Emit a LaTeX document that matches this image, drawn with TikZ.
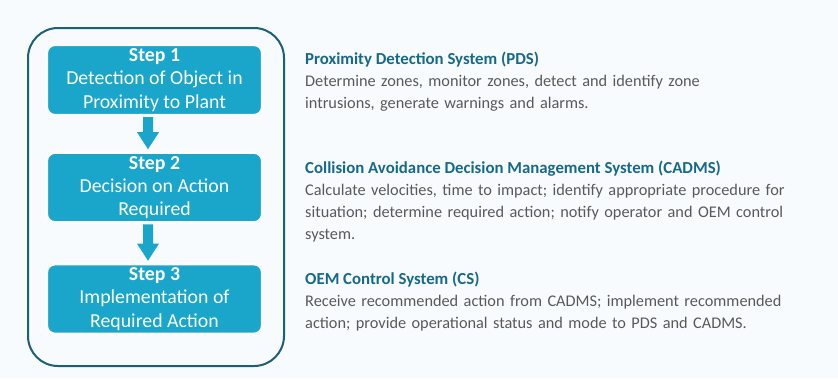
\documentclass[tikz,border=0pt]{standalone}
\usepackage{fontspec}
\setmainfont{Carlito}
\usetikzlibrary{shadows,calc}
\definecolor{pagebg}{HTML}{F8FBFD}
\definecolor{stepfill}{HTML}{1AA5CB}
\definecolor{frameline}{HTML}{1E5F78}
\definecolor{headcol}{HTML}{17698A}
\definecolor{bodycol}{HTML}{595959}
\tikzset{
  x=1pt, y=1pt,
  stepbox/.style={rectangle, rounded corners=8pt, fill=stepfill, draw=white,
    line width=2.2pt, minimum width=215pt, text=white, align=center,
    font=\fontsize{19.8}{23.3}\selectfont,
    execute at begin node={\vspace*{5pt}},
    drop shadow={opacity=0.22, shadow xshift=0.6pt, shadow yshift=-0.6pt}},
  flowarrow/.style={fill=stepfill, draw=none},
  heading/.style={anchor=base west, inner sep=0pt, text=headcol,
    font=\fontsize{16.8}{22}\selectfont\bfseries},
  body/.style={anchor=base west, inner sep=0pt, text=bodycol,
    text width=486pt, font=\fontsize{16.3}{22}\selectfont}
}
\begin{document}
\begin{tikzpicture}
  % canvas
  \fill[pagebg] (0,0) rectangle (838,-378);
  \useasboundingbox (0,0) rectangle (838,-378);

  % frame around the three steps
  \node[draw=frameline, line width=2pt, rounded corners=30pt, minimum width=256pt,
        minimum height=338pt] (frame) at (156,-197) {};

  % steps
  \node[stepbox, minimum height=70pt] (s1) at (154.5,-80)
    {\textbf{Step 1}\\Detection of Object in\\Proximity to Plant};
  \node[stepbox, minimum height=69pt] (s2) at (154.5,-187.5)
    {\textbf{Step 2}\\Decision on Action\\Required};
  \node[stepbox, minimum height=68pt] (s3) at (154.5,-299)
    {\textbf{Step 3}\\Implementation of\\Required Action};

  % block arrows between steps
  \foreach \a/\b in {s1/s2, s2/s3}{
    \path (\a.south) ++(-6.5,-1) coordinate (top)
          (\b.north) ++(-6.5,2.5) coordinate (tip);
    \fill[flowarrow] ($(top)+(-5,0)$) -- ($(top)+(5,0)$)
      -- ($(tip)+(5,17)$) -- ($(tip)+(11,17)$) -- (tip)
      -- ($(tip)+(-11,17)$) -- ($(tip)+(-5,17)$) -- cycle;
  }

  % descriptions
  \node[heading] (pdsh) at (305,-64) {Proximity Detection System (PDS)};
  \node[body] (pdsb) at (305,-86)
    {Determine zones, monitor zones, detect and identify zone\\
     intrusions, generate warnings and alarms.};

  \node[heading] (cadh) at (305,-173) {Collision Avoidance Decision Management System (CADMS)};
  \node[body] (cadb) at (305,-195)
    {Calculate velocities, time to impact; identify appropriate procedure for\linebreak
     situation; determine required action; notify operator and OEM control\linebreak
     system.};

  \node[heading] (csh) at (305,-284) {OEM Control System (CS)};
  \node[body] (csb) at (305,-306)
    {Receive recommended action from CADMS; implement recommended\linebreak
     action; provide operational status and mode to PDS and CADMS.};
\end{tikzpicture}
\end{document}
